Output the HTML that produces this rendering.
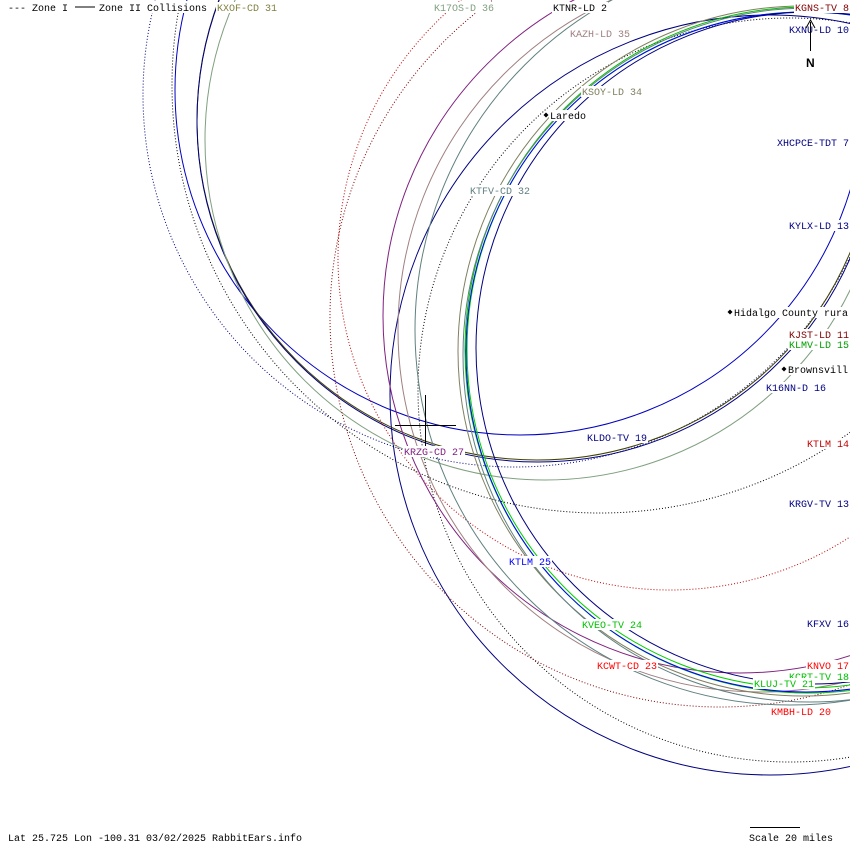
<!DOCTYPE html>
<html><head><meta charset="utf-8">
<style>
html,body{margin:0;padding:0;background:#fff;}
#wrap{position:relative;width:850px;height:850px;overflow:hidden;background:#fff;}
svg{position:absolute;left:0;top:0;}
text{font-family:"Liberation Mono","DejaVu Sans Mono",monospace;font-size:10px;}
</style></head>
<body>
<div id="wrap">
<svg id="map" width="850" height="850" viewBox="0 0 850 850">
  <g id="arcs"></g>
  <g>
    <rect x="6" y="1" width="204" height="12" fill="#fff"/>
    <text x="8" y="11" fill="#000">--- Zone I</text>
    <line x1="75" y1="7" x2="95" y2="7" stroke="#000"/>
    <text x="99" y="11" fill="#000">Zone II Collisions</text>
  </g>
  <g>
    <line x1="425.5" y1="395" x2="425.5" y2="452" stroke="#000"/>
    <line x1="395" y1="425.5" x2="456" y2="425.5" stroke="#000"/>
  </g>
  <g id="labels"></g>
  <g>
    <line x1="810.5" y1="22" x2="810.5" y2="51" stroke="#000"/>
    <polyline points="806,28 810.5,20 815,28" fill="none" stroke="#000"/>
    <text x="806" y="67" fill="#000" style="font-family:'Liberation Sans',sans-serif;font-size:12px;font-weight:bold">N</text>
  </g>
  <g>
    <text x="8" y="841" fill="#000">Lat 25.725 Lon -100.31 03/02/2025 RabbitEars.info</text>
    <line x1="750" y1="827.5" x2="800" y2="827.5" stroke="#000"/>
    <text x="749" y="841" fill="#000">Scale 20 miles</text>
  </g>
</svg>
</div>
<script>
// contour circles: center x, center y, radius (map px), color, dotted(1)/solid(0)
const circleCx = [515, 600, 790, 770, 520, 537, 538, 545, 670, 720, 740, 760, 790, 805, 808, 806, 803, 810, 812];
const circleCy = [95, 85, 390, 395, 90, 120, 121, 140, 258, 317, 316, 330, 330, 350, 350, 352, 351, 355, 348];
const circleR  = [372, 428, 372, 380, 345, 340, 341, 340, 332, 390, 357, 362, 375, 338, 343, 340, 345, 347, 336];
const circleColor = ["#000080","#000000","#000000","#000080","#0000c0","#404000","#000080","#80a080","#c00000","#800000","#802080","#a08080","#608080","#00d000","#00c000","#0000ff","#808060","#608080","#000080"];
const circleDotted = [1,1,1,0,0,0,0,0,1,1,0,0,0,0,0,0,0,0,0];

const labelText = ["KXOF-CD 31","K17OS-D 36","KTNR-LD 2","KGNS-TV 8","KXNU-LD 10","KAZH-LD 35","KSOY-LD 34","Laredo","XHCPCE-TDT 7","KTFV-CD 32","KYLX-LD 13","Hidalgo County rura","KJST-LD 11","KLMV-LD 15","Brownsvill","K16NN-D 16","KLDO-TV 19","KTLM 14","KRZG-CD 27","KRGV-TV 13","KTLM 25","KVEO-TV 24","KFXV 16","KCWT-CD 23","KNVO 17","KCRT-TV 18","KLUJ-TV 21","KMBH-LD 20"];
const labelX = [217,434,553,795,789,570,582,550,777,470,789,734,789,789,788,766,587,807,404,789,509,582,807,597,807,789,754,771];
const labelY = [7,7,7,7,29,33,91,115,142,190,225,312,334,344,369,387,437,443,451,503,561,624,623,665,665,676,683,711];
const labelColor = ["#808040","#80a080","#000000","#800000","#000080","#a08080","#808060","#000000","#000080","#608080","#000080","#000000","#800000","#00a000","#000000","#000080","#000080","#c00000","#802080","#000080","#0000ff","#00c000","#000080","#ff0000","#ff0000","#00c000","#00c000","#ff0000"];
const cityIdx = [7,11,14];

const NS="http://www.w3.org/2000/svg";
const arcs=document.getElementById('arcs');
for(let i=0;i<circleCx.length;i++){
  const c=document.createElementNS(NS,'circle');
  c.setAttribute('cx',circleCx[i]);
  c.setAttribute('cy',circleCy[i]);
  c.setAttribute('r',circleR[i]);
  c.setAttribute('fill','none');
  c.setAttribute('stroke',circleColor[i]);
  c.setAttribute('stroke-width','1');
  if(circleDotted[i]) c.setAttribute('stroke-dasharray','1 2');
  
  
  arcs.appendChild(c);
}
const labels=document.getElementById('labels');
for(let i=0;i<labelText.length;i++){
  const isCity=cityIdx.indexOf(i)>=0;
  const bg=document.createElementNS(NS,'rect');
  bg.setAttribute('x',labelX[i]-1);
  bg.setAttribute('y',labelY[i]-5);
  bg.setAttribute('width',labelText[i].length*6+2);
  bg.setAttribute('height',11);
  bg.setAttribute('fill','#fff');
  
  
  labels.appendChild(bg);
  if(isCity){
    const d=document.createElementNS(NS,'polygon');
    const x=labelX[i]-4,y=labelY[i];
    d.setAttribute('points',(x-2.5)+','+y+' '+x+','+(y-2.5)+' '+(x+2.5)+','+y+' '+x+','+(y+2.5));
    d.setAttribute('fill','#000');
    
    
    labels.appendChild(d);
  }
  const t=document.createElementNS(NS,'text');
  t.setAttribute('x',labelX[i]);
  t.setAttribute('y',labelY[i]+4);
  t.setAttribute('fill',labelColor[i]);
  t.textContent=labelText[i];
  
  
  labels.appendChild(t);
}
</script>
</body></html>
